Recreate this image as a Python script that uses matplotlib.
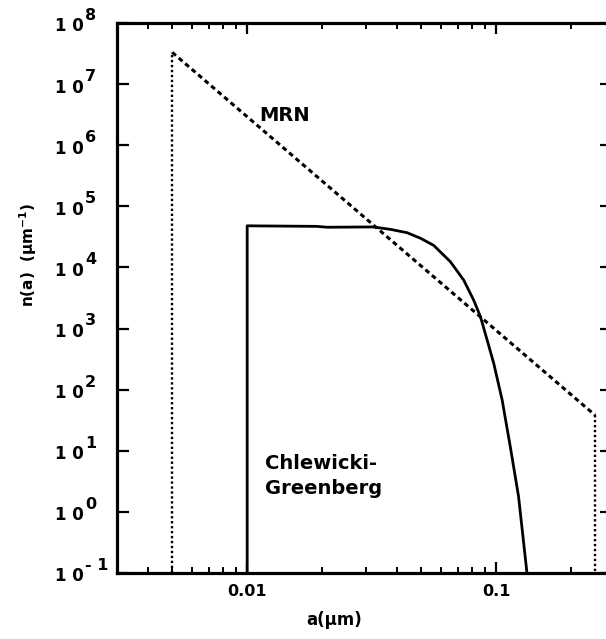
"""Redraw of the grain size distribution figure: MRN vs Chlewicki-Greenberg."""

import matplotlib as mpl
import matplotlib.pyplot as plt
from matplotlib.ticker import FixedLocator, NullFormatter, NullLocator
from matplotlib.transforms import blended_transform_factory, offset_copy

# MRN power law, drawn as: left edge, sloped part, right edge
mrn_a = [0.005, 0.005, 0.25, 0.25]
mrn_n = [0.1, 3.3e7, 38.0, 0.1]

# Chlewicki-Greenberg distribution
cg_a = [0.01, 0.01, 0.019, 0.021, 0.032, 0.0376, 0.0439, 0.0497, 0.0561,
        0.0655, 0.0741, 0.0813, 0.0865, 0.092, 0.0978, 0.1057, 0.114,
        0.123, 0.133]
cg_n = [0.1, 4.8e4, 4.7e4, 4.55e4, 4.6e4, 4.2e4, 3.7e4, 3.0e4, 2.3e4,
        1.24e4, 6.2e3, 2.9e3, 1.56e3, 650, 270, 68, 11.6, 1.8, 0.1]

x_ticks = [0.01, 0.1]
x_tick_labels = ["0.01", "0.1"]
y_exponents = [-1, 0, 1, 2, 3, 4, 5, 6, 7, 8]

FONT = "DejaVu Sans"


def main() -> None:
    mpl.rcParams.update({
        "font.family": FONT,
        "font.weight": "bold",
        "mathtext.fontset": "dejavusans",
        "axes.unicode_minus": False,
    })

    fig = plt.figure(figsize=(6.06, 6.39), dpi=100)
    W, H = 606, 639
    # right spine sits just outside the picture, as in the cropped original
    left, right, bottom, top = 117, 612, 573, 23
    ax = fig.add_axes([left / W, 1 - bottom / H, (right - left) / W, (bottom - top) / H])
    ax.set_xscale("log")
    ax.set_yscale("log")
    ax.set_xlim(0.003, 0.292)
    ax.set_ylim(0.1, 1e8)

    # MRN: dotted edges, short-dash slope
    ax.plot(mrn_a[:2], mrn_n[:2], color="black", lw=1.7, linestyle=(0, (1, 1.1)))
    ax.plot(mrn_a[1:3], mrn_n[1:3], color="black", lw=2.2, linestyle=(0, (1.6, 1.2)))
    ax.plot(mrn_a[2:], mrn_n[2:], color="black", lw=1.7, linestyle=(0, (1, 1.1)))
    ax.plot(cg_a, cg_n, color="black", lw=2.0, solid_joinstyle="round")

    for s in ax.spines.values():
        s.set_linewidth(2.3)

    ax.xaxis.set_major_locator(FixedLocator(x_ticks))
    ax.set_xticklabels(x_tick_labels)
    minors = [k * 10.0 ** e for e in (-3, -2, -1) for k in range(2, 10)]
    ax.xaxis.set_minor_locator(FixedLocator(minors))
    ax.xaxis.set_minor_formatter(NullFormatter())
    ax.tick_params(axis="x", which="major", direction="in", length=8, width=1.6,
                   top=True, bottom=True, labelsize=11.5, pad=8)
    ax.tick_params(axis="x", which="minor", direction="in", length=4.5, width=1.4,
                   top=True, bottom=True)

    ax.yaxis.set_major_locator(FixedLocator([10.0 ** e for e in y_exponents]))
    ax.yaxis.set_minor_locator(NullLocator())
    ax.yaxis.set_major_formatter(NullFormatter())
    ax.tick_params(axis="y", which="major", direction="in", length=8.5, width=1.6,
                   left=True, right=True)

    # y tick labels: "1 0" with a full size raised exponent
    trans = blended_transform_factory(fig.transFigure, ax.transData)
    base_t = offset_copy(trans, fig=fig, x=0, y=-2.5, units="points")
    exp_t = offset_copy(trans, fig=fig, x=0, y=5.5, units="points")
    xlab = 84 / W
    for e in y_exponents:
        ax.text(xlab, 10.0 ** e, "1 0", transform=base_t, ha="right", va="center",
                fontsize=12, fontweight="bold", clip_on=False)
        exp = "- 1" if e < 0 else str(e)
        ax.text(xlab + 1 / W, 10.0 ** e, exp, transform=exp_t, ha="left", va="center",
                fontsize=11.5, fontweight="bold", clip_on=False)

    fig.text(334 / W, 1 - 620 / H, "a(μm)", ha="center", va="center",
             fontsize=12, fontweight="bold")
    fig.text(28 / W, 1 - 255 / H, r"n(a)  (μm$^{\mathbf{-1}}$)", rotation=90,
             ha="center", va="center", fontsize=11, fontweight="bold")

    ax.text(0.0112, 3.1e6, "MRN", ha="left", va="center", fontsize=14, fontweight="bold")
    ax.text(0.0118, 3.85, "Chlewicki-\nGreenberg", ha="left", va="center",
            fontsize=14, fontweight="bold", linespacing=1.45)

    fig.savefig("out.png", dpi=100, facecolor="white")
    plt.close(fig)


if __name__ == "__main__":
    main()
